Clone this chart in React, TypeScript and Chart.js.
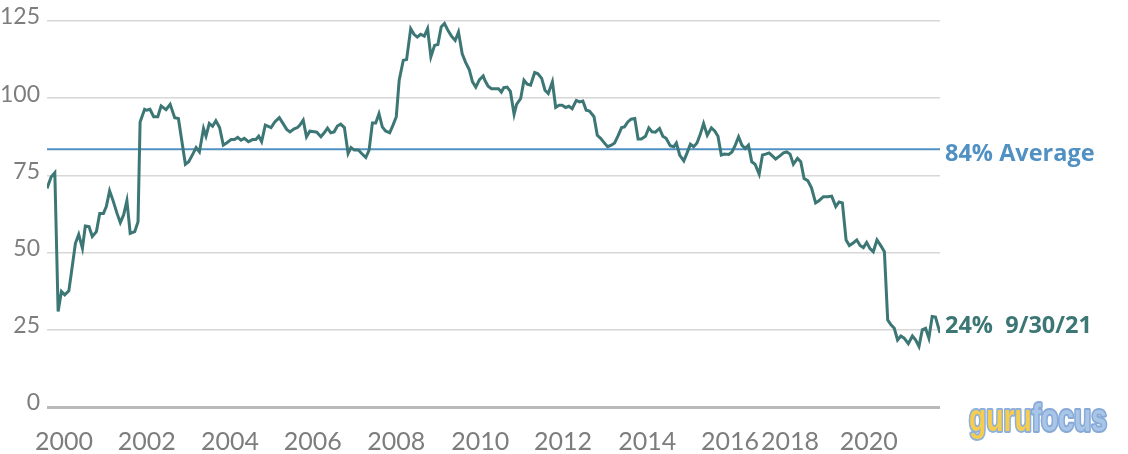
import React, { useEffect, useRef } from "react";
import { Chart, registerables } from "chart.js";

Chart.register(...registerables);

// Decimal-year dates of each observation and the ratio value (%)
const dates = [
  2000.0, 2000.1, 2000.19, 2000.27, 2000.35, 2000.43, 2000.53, 2000.59, 2000.69, 2000.77, 2000.86, 2000.93,
  2001.02, 2001.1, 2001.2, 2001.28, 2001.37, 2001.44, 2001.52, 2001.6, 2001.7, 2001.78, 2001.86, 2001.94,
  2002.02, 2002.13, 2002.21, 2002.26, 2002.37, 2002.42, 2002.5, 2002.59, 2002.69, 2002.77, 2002.89, 2002.99,
  2003.1, 2003.19, 2003.36, 2003.44, 2003.54, 2003.62, 2003.7, 2003.8, 2003.86, 2003.94,
  2004.02, 2004.1, 2004.19, 2004.28, 2004.36, 2004.47, 2004.55, 2004.63, 2004.71, 2004.79, 2004.89, 2004.99,
  2005.07, 2005.14, 2005.21, 2005.3, 2005.44, 2005.53, 2005.64, 2005.74, 2005.82, 2005.9,
  2006.0, 2006.08, 2006.14, 2006.22, 2006.3, 2006.38, 2006.49, 2006.55, 2006.65, 2006.73, 2006.81, 2006.89, 2006.97,
  2007.05, 2007.13, 2007.22, 2007.31, 2007.38, 2007.46, 2007.56, 2007.64, 2007.74, 2007.82, 2007.9, 2007.98,
  2008.06, 2008.14, 2008.22, 2008.32, 2008.4, 2008.48, 2008.55, 2008.65, 2008.73, 2008.83, 2008.91, 2008.99,
  2009.07, 2009.16, 2009.24, 2009.32, 2009.41, 2009.49, 2009.57, 2009.65, 2009.74, 2009.82, 2009.91, 2009.99,
  2010.08, 2010.16, 2010.25, 2010.33, 2010.41, 2010.5, 2010.59, 2010.63, 2010.71, 2010.79, 2010.89, 2010.96,
  2011.03, 2011.09, 2011.17, 2011.25, 2011.34, 2011.4, 2011.5, 2011.58, 2011.66, 2011.74, 2011.84, 2011.92,
  2012.01, 2012.09, 2012.17, 2012.27, 2012.35, 2012.43, 2012.51, 2012.59, 2012.67, 2012.75, 2012.85, 2012.93,
  2013.01, 2013.09, 2013.17, 2013.28, 2013.36, 2013.44, 2013.52, 2013.61, 2013.7, 2013.78, 2013.86, 2013.95,
  2014.02, 2014.1, 2014.18, 2014.27, 2014.35, 2014.43, 2014.53, 2014.61, 2014.69, 2014.77, 2014.87, 2014.95,
  2015.03, 2015.13, 2015.22, 2015.28, 2015.36, 2015.46, 2015.54, 2015.62, 2015.7, 2015.78, 2015.86, 2015.94,
  2016.03, 2016.13, 2016.21, 2016.29, 2016.37, 2016.45, 2016.55, 2016.63, 2016.71, 2016.79, 2016.87, 2016.95,
  2017.03, 2017.11, 2017.19, 2017.29, 2017.37, 2017.45, 2017.53, 2017.61, 2017.69, 2017.8, 2017.88, 2017.96,
  2018.04, 2018.12, 2018.22, 2018.3, 2018.38, 2018.47, 2018.56, 2018.66, 2018.74, 2018.85, 2018.96,
  2019.05, 2019.15, 2019.23, 2019.31, 2019.4, 2019.48, 2019.58, 2019.66, 2019.74, 2019.82, 2019.9, 2019.98,
  2020.06, 2020.15, 2020.25, 2020.33, 2020.41, 2020.49, 2020.57, 2020.65, 2020.73, 2020.81, 2020.91,
  2021.01, 2021.09, 2021.17, 2021.25, 2021.33, 2021.41, 2021.49, 2021.57, 2021.68,
];

const values = [
  70.8, 74.5, 75.9, 30.9, 37.4, 36.3, 37.6, 43.3, 53.0, 55.9, 51.4, 58.6,
  58.4, 55.2, 56.8, 62.7, 62.7, 64.9, 70.0, 67.0, 62.7, 59.7, 62.2, 66.8,
  56.2, 56.8, 60.0, 92.3, 96.4, 96.1, 96.4, 94.0, 94.0, 97.5, 96.3, 98.0,
  93.7, 93.4, 78.6, 79.4, 81.9, 84.0, 82.6, 90.2, 87.7, 91.8,
  90.9, 92.7, 90.5, 84.8, 85.5, 86.6, 86.6, 87.3, 86.4, 87.0, 85.9, 86.6,
  86.6, 87.7, 85.9, 91.3, 90.5, 92.3, 93.7, 91.6, 89.9, 89.1,
  90.1, 90.5, 91.3, 92.9, 87.5, 89.3, 89.1, 89.0, 87.5, 88.8, 90.3, 88.8, 89.1,
  91.0, 91.6, 90.5, 82.1, 84.0, 83.2, 83.2, 82.1, 80.8, 83.2, 92.0, 92.0,
  95.0, 90.7, 89.4, 88.8, 91.3, 94.0, 105.8, 112.3, 112.5, 122.5, 120.7, 119.8,
  120.7, 120.1, 122.5, 113.4, 117.1, 117.4, 123.1, 124.2, 121.8, 120.1, 118.7, 121.4,
  114.4, 111.7, 109.3, 105.3, 103.6, 106.0, 107.2, 105.8, 103.9, 103.1, 103.1, 103.1,
  102.0, 103.4, 103.6, 102.2, 94.8, 98.0, 99.9, 105.8, 104.5, 104.2, 108.3, 107.9,
  106.4, 102.6, 101.5, 105.3, 97.0, 97.7, 97.7, 97.0, 97.4, 96.6, 99.3, 98.8,
  99.1, 96.1, 95.8, 94.0, 88.0, 87.0, 85.7, 84.3, 84.8, 85.5, 87.7, 90.5,
  90.7, 92.3, 93.2, 93.4, 86.8, 86.8, 87.7, 90.4, 89.1, 89.0, 90.2, 87.7,
  87.0, 84.6, 84.3, 85.5, 81.6, 79.7, 82.3, 85.1, 84.3, 85.5, 88.3, 91.8,
  88.0, 90.4, 89.4, 87.7, 81.6, 81.9, 81.8, 82.6, 84.8, 87.5, 84.8, 83.7,
  84.8, 79.4, 78.6, 75.4, 81.6, 81.9, 82.3, 81.3, 80.3, 81.4, 82.3, 82.6,
  81.9, 78.6, 80.5, 79.4, 74.0, 73.3, 71.0, 66.1, 66.8, 68.1, 68.1,
  68.3, 64.9, 66.4, 66.1, 54.1, 52.3, 53.2, 54.1, 52.3, 51.6, 53.3, 51.3,
  50.3, 54.1, 52.1, 50.3, 28.2, 26.6, 25.5, 21.7, 23.0, 22.3, 20.5,
  23.0, 21.7, 19.6, 25.0, 25.5, 22.3, 29.3, 29.1, 24.0,
];

const averageValue = 83.5;
const averageLabel = "84% Average";
const latestLabel = "24%  9/30/21";

const yTickValues = [0, 25, 50, 75, 100, 125];
const xTickLabels = ["2000", "2002", "2004", "2006", "2008", "2010", "2012", "2014", "2016", "2018", "2020"];
// where each year label sits on the date axis (as placed in the source chart)
const xTickDates = [2000.41, 2002.42, 2004.44, 2006.45, 2008.48, 2010.52, 2012.53, 2014.57, 2016.58, 2018.04, 2019.95];

const TEAL = "#3c7775";
const BLUE = "#5190c3";
const TICK_GRAY = "#7d7d7d";

const annotationPlugin = {
  id: "sideAnnotations",
  afterDraw(chart: any) {
    const { ctx, chartArea, scales } = chart;
    const ys = scales.y;
    ctx.save();
    ctx.textAlign = "left";
    ctx.font = "bold 23.5px 'Open Sans'";
    ctx.fillStyle = BLUE;
    ctx.textBaseline = "alphabetic";
    ctx.fillText(averageLabel, chartArea.right + 5, ys.getPixelForValue(averageValue) + 12);
    ctx.fillStyle = TEAL;
    ctx.fillText(latestLabel, chartArea.right + 5, ys.getPixelForValue(values[values.length - 1]));

    // gurufocus logo (text)
    ctx.font = "bold 38px 'Liberation Sans'";
    const w1 = ctx.measureText("guru").width;
    const w2 = ctx.measureText("focus").width;
    const sx = 138 / (w1 + w2);
    ctx.translate(969, 431);
    ctx.scale(sx, 1);
    ctx.lineJoin = "round";
    ctx.lineWidth = 4;
    ctx.strokeStyle = "#8fb0da";
    ctx.strokeText("guru", 0, 0);
    ctx.fillStyle = "#f6cd4f";
    ctx.fillText("guru", 0, 0);
    ctx.strokeStyle = "#86a9d6";
    ctx.strokeText("focus", w1, 0);
    ctx.fillStyle = "#a9c5e8";
    ctx.fillText("focus", w1, 0);
    ctx.restore();
  },
};

export default function App() {
  const canvasRef = useRef<HTMLCanvasElement | null>(null);

  useEffect(() => {
    const canvas = canvasRef.current;
    if (!canvas) return;
    const first = dates[0];
    const last = dates[dates.length - 1];
    const chart = new Chart(canvas, {
      type: "line",
      data: {
        datasets: [
          {
            data: dates.map((d, i) => ({ x: d, y: values[i] })),
            borderColor: TEAL,
            borderWidth: 3,
            pointRadius: 0,
            tension: 0,
            fill: false,
          },
          {
            data: [
              { x: first, y: averageValue },
              { x: last, y: averageValue },
            ],
            borderColor: BLUE,
            borderWidth: 2,
            pointRadius: 0,
            fill: false,
          },
        ],
      },
      options: {
        animation: false,
        responsive: false,
        devicePixelRatio: 1,
        layout: { padding: { top: 21, right: 188, left: 0, bottom: 0 } },
        plugins: {
          legend: { display: false },
          tooltip: { enabled: false },
        },
        scales: {
          x: {
            type: "linear",
            min: first,
            max: last,
            grid: { display: false },
            border: { display: false },
            afterBuildTicks: (scale: any) => {
              scale.ticks = xTickDates.map((v) => ({ value: v }));
            },
            afterFit: (scale: any) => {
              scale.height = 47;
            },
            ticks: {
              autoSkip: false,
              maxRotation: 0,
              padding: 12,
              color: TICK_GRAY,
              font: { family: "Lato", size: 25 },
              callback: (_v: any, i: number) => xTickLabels[i],
            },
          },
          y: {
            min: 0,
            max: 125,
            border: { display: false },
            afterBuildTicks: (scale: any) => {
              scale.ticks = yTickValues.map((v) => ({ value: v }));
            },
            afterFit: (scale: any) => {
              scale.width = 47;
            },
            grid: {
              drawTicks: false,
              color: (c: any) => (c.tick && c.tick.value === 0 ? "#b9b9b9" : "#d7d7d7"),
              lineWidth: (c: any) => (c.tick && c.tick.value === 0 ? 3 : 1.5),
            },
            ticks: {
              padding: 7,
              labelOffset: -4,
              color: TICK_GRAY,
              font: { family: "Lato", size: 23 },
              callback: (v: any) => String(v),
            },
          },
        },
      },
      plugins: [annotationPlugin],
    });
    return () => chart.destroy();
  }, []);

  return (
    <div style={{ position: "absolute", left: 0, top: 0, width: 1128, height: 454, background: "#fff" }}>
      <canvas ref={canvasRef} width={1128} height={454} />
    </div>
  );
}
